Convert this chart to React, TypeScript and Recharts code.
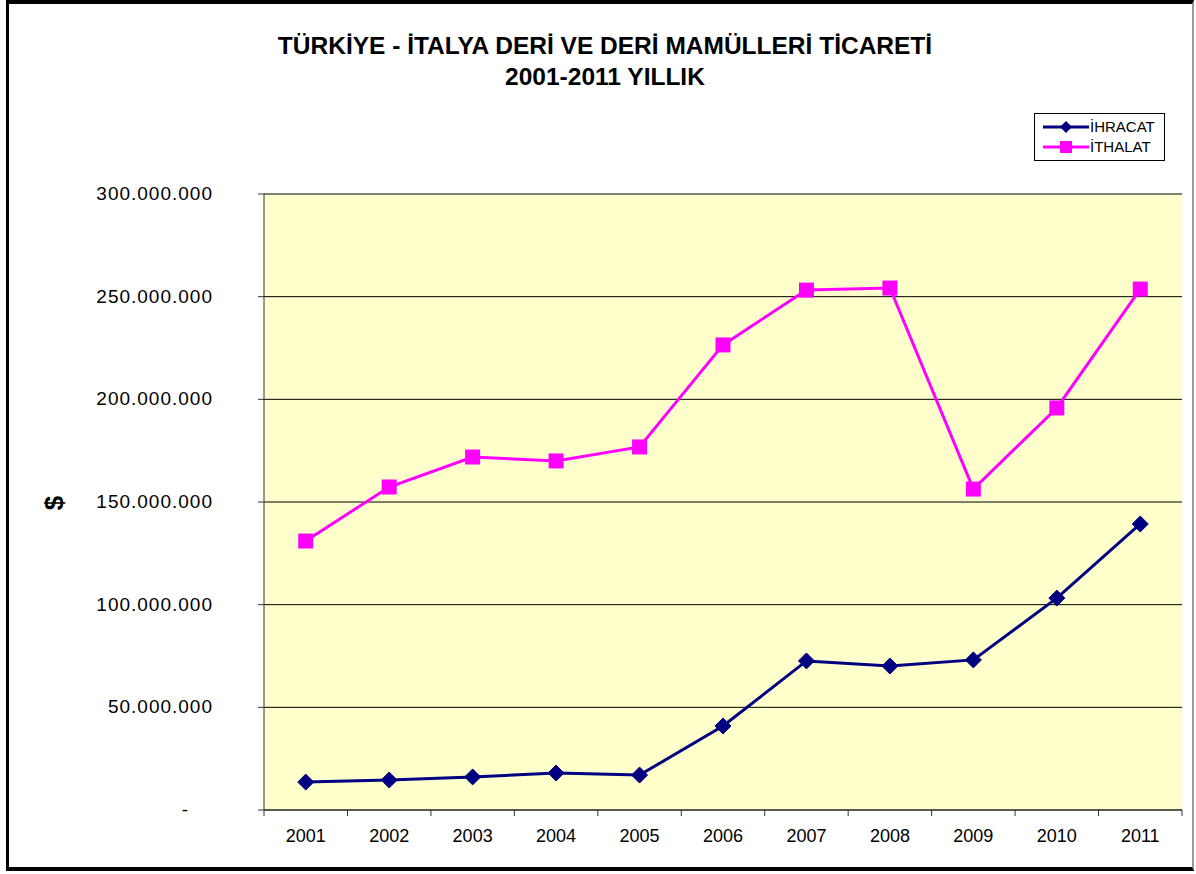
import { LineChart, Line, XAxis, YAxis, CartesianGrid } from 'recharts'

const years = ['2001', '2002', '2003', '2004', '2005', '2006', '2007', '2008', '2009', '2010', '2011']
const ihracat = [13.6, 14.6, 16.1, 18.0, 17.0, 40.9, 72.6, 70.1, 73.1, 103.2, 139.3]
const ithalat = [131.0, 157.3, 171.9, 170.0, 176.8, 226.5, 253.2, 254.2, 156.3, 195.8, 253.7]
const yTicks = [0, 50000000, 100000000, 150000000, 200000000, 250000000, 300000000]

const data = years.map((y, i) => ({
  year: y,
  ihracat: ihracat[i] * 1000000,
  ithalat: ithalat[i] * 1000000,
}))

const W = 1196
const H = 874
const M = { top: 194, right: 14, bottom: 0, left: 0 }
const Y_W = 264
const X_H = 64
const FONT = '"Liberation Sans", Arial, sans-serif'
const NAVY = '#000080'
const PINK = '#FF00FF'

const fmt = (n: number) => (n === 0 ? '-' : String(n).replace(/\B(?=(\d{3})+(?!\d))/g, '.'))

// width of one category slot, used for the Excel-style tick marks between categories
const bandW = (W - M.left - M.right - Y_W) / years.length

function XTick(props: any) {
  const { x, y, payload, index } = props
  return (
    <g>
      <line x1={x - bandW / 2} x2={x - bandW / 2} y1={y} y2={y + 6} stroke="#333" />
      {index === years.length - 1 && (
        <line x1={x + bandW / 2} x2={x + bandW / 2} y1={y} y2={y + 6} stroke="#333" />
      )}
      <text x={x} y={y + 32} textAnchor="middle" fontSize={18} fill="#000" fontFamily={FONT}>
        {payload.value}
      </text>
    </g>
  )
}

function YTick(props: any) {
  const { x, y, payload } = props
  const zero = payload.value === 0
  return (
    <text
      x={zero ? x - 24 : x}
      y={y}
      dy={6}
      textAnchor="end"
      fontSize={19}
      letterSpacing={1}
      fill="#000"
      fontFamily={FONT}
    >
      {fmt(payload.value)}
    </text>
  )
}

function Diamond(props: any) {
  const { cx, cy } = props
  const r = 8
  return (
    <path
      key={`d-${props.index}`}
      d={`M${cx},${cy - r} L${cx + r},${cy} L${cx},${cy + r} L${cx - r},${cy} Z`}
      fill={NAVY}
      stroke={NAVY}
    />
  )
}

function Square(props: any) {
  const { cx, cy } = props
  const s = 7.5
  return <rect key={`s-${props.index}`} x={cx - s} y={cy - s} width={s * 2} height={s * 2} fill={PINK} />
}

function LegendBox() {
  const items = [
    { name: 'İHRACAT', color: NAVY, shape: 'diamond' },
    { name: 'İTHALAT', color: PINK, shape: 'square' },
  ]
  return (
    <div
      style={{
        position: 'absolute',
        left: 1034,
        top: 113,
        width: 131,
        height: 48,
        border: '1px solid #000',
        background: '#fff',
        fontFamily: FONT,
        fontSize: 15,
        boxSizing: 'border-box',
        paddingTop: 3,
      }}
    >
      {items.map((it) => (
        <div key={it.name} style={{ display: 'flex', alignItems: 'center', height: 20 }}>
          <svg width={55} height={20} style={{ display: 'block' }}>
            <line x1={8} x2={54} y1={10} y2={10} stroke={it.color} strokeWidth={3} />
            {it.shape === 'diamond' ? (
              <path d="M31,4 L37,10 L31,16 L25,10 Z" fill={it.color} />
            ) : (
              <rect x={25} y={4} width={12} height={12} fill={it.color} />
            )}
          </svg>
          <span style={{ color: '#000', lineHeight: '20px' }}>{it.name}</span>
        </div>
      ))}
    </div>
  )
}

export default function App() {
  return (
    <div style={{ position: 'absolute', left: 0, top: 0, width: W, height: H, background: '#fff' }}>
      <div
        style={{
          position: 'absolute',
          left: 6,
          top: 0,
          width: 1188,
          height: 871,
          borderLeft: '3px solid #000',
          borderTop: '4px solid #000',
          borderBottom: '4px solid #000',
          borderRight: '2px solid #999',
          boxSizing: 'border-box',
        }}
      />
      <div
        style={{
          position: 'absolute',
          left: 205,
          top: 30,
          width: 800,
          textAlign: 'center',
          fontFamily: FONT,
          fontWeight: 'bold',
          fontSize: 24.5,
          lineHeight: '31px',
          color: '#000',
        }}
      >
        TÜRKİYE - İTALYA DERİ VE DERİ MAMÜLLERİ TİCARETİ
        <br />
        2001-2011 YILLIK
      </div>
      <div style={{ position: 'absolute', left: 0, top: 0 }}>
        <LineChart width={W} height={H} data={data} margin={M}>
          <CartesianGrid vertical={false} stroke="#000" fill="#FFFFCC" fillOpacity={1} />
          <XAxis
            dataKey="year"
            height={X_H}
            stroke="#333"
            tickLine={false}
            tickSize={0}
            tickMargin={0}
            tick={<XTick />}
            interval={0}
            padding={{ left: bandW / 2, right: bandW / 2 }}
          />
          {/* gray frame on top and right of the plot area */}
          <XAxis
            xAxisId="top"
            orientation="top"
            dataKey="year"
            height={0}
            stroke="#808080"
            strokeWidth={2}
            tick={false}
            tickLine={false}
            padding={{ left: bandW / 2, right: bandW / 2 }}
          />
          <YAxis
            yAxisId="right"
            orientation="right"
            width={0}
            domain={[0, 300000000]}
            stroke="#808080"
            strokeWidth={2}
            tick={false}
            tickLine={false}
          />
          <YAxis
            width={Y_W}
            domain={[0, 300000000]}
            ticks={yTicks}
            stroke="#333"
            tickSize={6}
            tickMargin={45}
            tick={<YTick />}
            interval={0}
            label={{
              value: '$',
              content: () => (
                <text
                  x={54}
                  y={503}
                  transform="rotate(-90 54 503)"
                  textAnchor="middle"
                  dominantBaseline="central"
                  fontSize={26}
                  fontWeight="bold"
                  fontFamily={FONT}
                  fill="#000"
                >
                  $
                </text>
              ),
            }}
          />
          <Line
            type="linear"
            dataKey="ithalat"
            stroke={PINK}
            strokeWidth={3}
            dot={Square}
            activeDot={false}
            isAnimationActive={false}
          />
          <Line
            type="linear"
            dataKey="ihracat"
            stroke={NAVY}
            strokeWidth={3}
            dot={Diamond}
            activeDot={false}
            isAnimationActive={false}
          />
        </LineChart>
      </div>
      <LegendBox />
    </div>
  )
}
